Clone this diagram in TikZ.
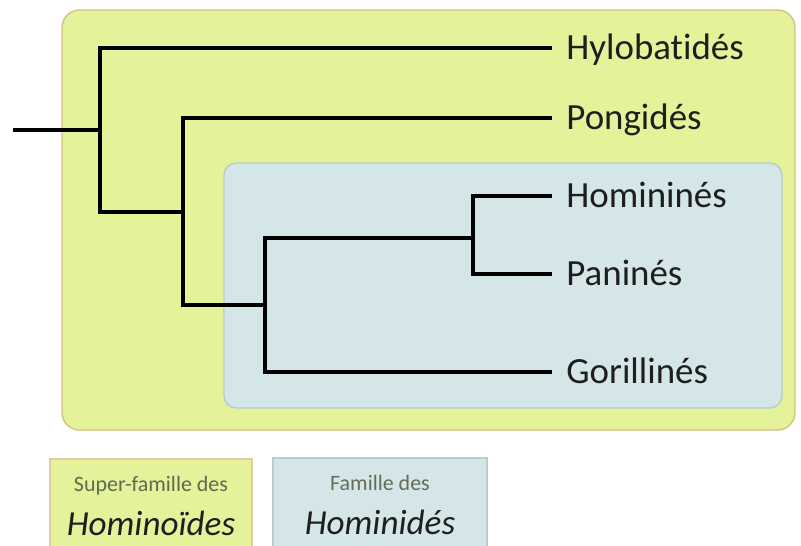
\documentclass[tikz,border=0pt]{standalone}
\usepackage{fontspec}
\setmainfont{Carlito}[Ligatures=NoCommon]
\definecolor{superfam}{HTML}{E4F29A}
\definecolor{superedge}{HTML}{D6C084}
\definecolor{fam}{HTML}{D5E6E8}
\definecolor{famedge}{HTML}{B8CCCC}
\definecolor{ink}{HTML}{1E1E1E}
\definecolor{legendtext}{HTML}{5F6A52}
\usetikzlibrary{positioning}

\begin{document}
\begin{tikzpicture}[x=0.02cm, y=-0.02cm,
    every node/.style={font=\fontsize{21}{24}\selectfont, text=ink},
    branch/.style={line width=2.8pt, draw=black},
    taxon/.style={anchor=west, inner xsep=8pt, inner ysep=0pt,
                  text height=13.5pt, text depth=0pt},
    smalltag/.style={font=\fontsize{12.5}{14}\selectfont, text=legendtext},
    bigtag/.style={font=\itshape\fontsize{20}{24}\selectfont}]
  \useasboundingbox (0,0) rectangle (801,545);

  % groups
  \draw[fill=superfam, draw=superedge, line width=0.8pt, rounded corners=10pt]
    (62,10) rectangle (795,430);
  \draw[fill=fam, draw=famedge, line width=0.8pt, rounded corners=7pt]
    (224,163) rectangle (782,408);

  % legend
  \draw[fill=superfam, draw=superedge!80, line width=0.8pt] (50,459) rectangle (252,580);
  \draw[fill=fam, draw=famedge, line width=0.8pt] (273,458) rectangle (487,580);
  \node[smalltag] (supertag) at (151,486) {Super-famille des};
  \node[bigtag] (supername) at (151,523) {Hominoïdes};
  \node[smalltag, text=legendtext!85!gray] (famtag) at (380,483) {Famille des};
  \node[bigtag] (famname) at (380,522) {Hominidés};

  % tree
  \coordinate (root) at (13,130);
  \coordinate (n1) at (100,130);
  \coordinate (n2) at (183,212);
  \coordinate (n3) at (265,305);
  \coordinate (n4) at (473,238);

  \node[taxon] (hylo) at (552,48) {Hylobatidés};
  \node[taxon] (pong) at (552,118) {Pongidés};
  \node[taxon] (homi) at (552,196) {Homininés};
  \node[taxon] (pani) at (552,274) {Paninés};
  \node[taxon] (gori) at (552,372) {Gorillinés};

  \draw[branch] (root) -- (n1);
  \draw[branch] (n1) |- (hylo.west);
  \draw[branch] (n1) |- (n2);
  \draw[branch] (n2) |- (pong.west);
  \draw[branch] (n2) |- (n3);
  \draw[branch] (n3) |- (n4);
  \draw[branch] (n3) |- (gori.west);
  \draw[branch] (n4) |- (homi.west);
  \draw[branch] (n4) |- (pani.west);
\end{tikzpicture}
\end{document}
